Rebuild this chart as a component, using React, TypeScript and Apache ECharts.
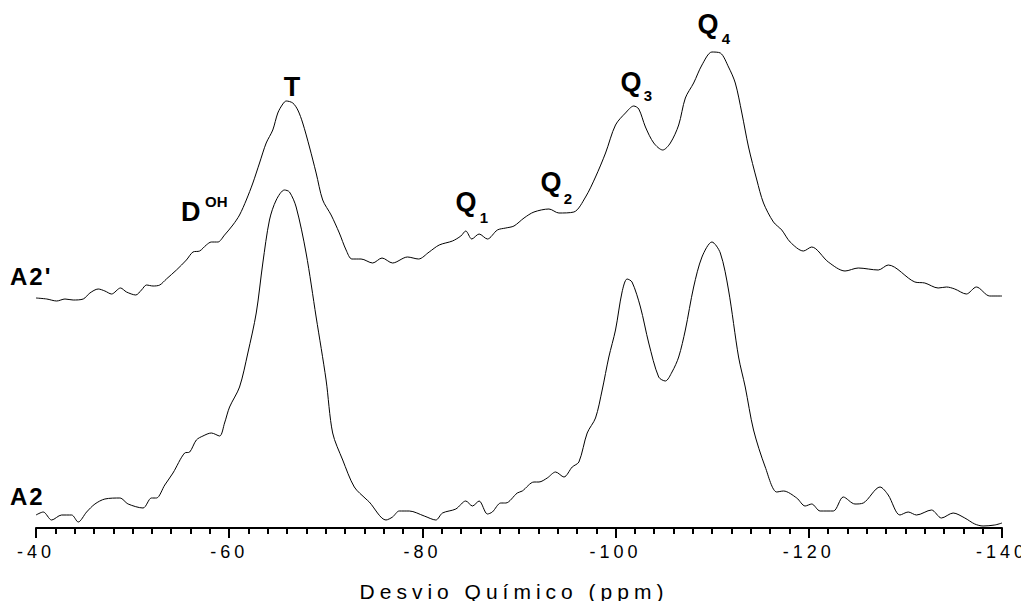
import React, { useEffect, useRef } from "react";
import * as echarts from "echarts";

// Chemical shift axis (ppm) tick labels
const xTicks = [-40, -60, -80, -100, -120, -140];

// Spectrum A2' (upper trace): [ppm, intensity]
const spectrumA2p: number[][] = [
  [-40, 230], [-41.11, 229], [-42.14, 227], [-43.0, 229], [-43.85, 228], [-44.89, 229],
  [-45.58, 235], [-46.44, 239], [-47.13, 237], [-47.82, 234], [-48.75, 240], [-49.37, 236],
  [-50.33, 233], [-50.92, 238], [-51.44, 243], [-52.12, 242], [-52.81, 243], [-53.5, 249],
  [-54.54, 258], [-55.57, 268], [-56.25, 276], [-56.94, 277], [-57.63, 283], [-58.15, 286],
  [-58.83, 286], [-59.52, 293], [-60.38, 303], [-61.07, 313], [-61.77, 328], [-62.45, 345],
  [-63.14, 365], [-63.83, 385], [-64.51, 398], [-65.03, 415], [-65.55, 424], [-65.9, 427],
  [-66.58, 425], [-67.1, 418], [-67.61, 405], [-68.31, 381], [-69.0, 355], [-69.68, 328],
  [-70.55, 313], [-71.4, 295], [-72.1, 278], [-72.7, 269], [-73.65, 269], [-74.85, 265],
  [-75.82, 270], [-76.91, 265], [-78.46, 271], [-79.6, 269], [-80.7, 276], [-81.74, 283],
  [-83.11, 287], [-83.98, 292], [-84.49, 297], [-85.11, 289], [-85.87, 294], [-86.73, 289],
  [-87.76, 298], [-88.63, 300], [-89.48, 302], [-90.52, 310], [-91.55, 316], [-93.1, 319],
  [-94.13, 315], [-95.68, 316], [-96.89, 331], [-97.92, 351], [-98.96, 375], [-99.99, 403],
  [-101.02, 415], [-101.88, 422], [-102.4, 419], [-103.09, 401], [-103.95, 385], [-104.88, 378],
  [-105.67, 385], [-106.53, 403], [-107.22, 430], [-108.08, 445], [-108.94, 463], [-109.97, 476],
  [-110.84, 475], [-111.69, 461], [-112.39, 445], [-113.07, 415], [-113.76, 381], [-114.62, 348],
  [-115.31, 325], [-116.34, 306], [-117.2, 298], [-118.07, 286], [-119.44, 277], [-120.3, 281],
  [-122.02, 266], [-123.75, 257], [-125.12, 260], [-127.19, 258], [-128.22, 263], [-130.98, 246],
  [-132.01, 245], [-133.39, 240], [-134.25, 241], [-135.11, 239], [-136.31, 234], [-137.35, 241],
  [-138.73, 232], [-140, 232],
];

// Spectrum A2 (lower trace): [ppm, intensity]
const spectrumA2: number[][] = [
  [-40, 13], [-40.75, 16], [-41.62, 8], [-42.65, 13], [-43.69, 13], [-44.37, 6],
  [-45.24, 16], [-46.1, 24], [-47.13, 29], [-48.68, 30], [-49.54, 24], [-51.08, 20],
  [-51.95, 30], [-52.47, 30], [-53.33, 43], [-54.18, 55], [-55.39, 75], [-55.91, 76],
  [-56.6, 88], [-57.28, 92], [-58.15, 95], [-59.01, 92], [-59.52, 105], [-60.04, 121],
  [-61.07, 141], [-61.93, 175], [-62.8, 215], [-63.48, 265], [-64.17, 308], [-64.87, 328],
  [-65.72, 338], [-66.24, 336], [-66.93, 321], [-67.96, 275], [-69.0, 211], [-70.03, 148],
  [-70.71, 95], [-71.75, 68], [-72.95, 41], [-74.16, 29], [-74.5, 26], [-76.23, 8],
  [-76.91, 11], [-77.6, 17], [-78.64, 17], [-80.19, 12], [-81.39, 8], [-82.08, 15],
  [-83.46, 19], [-84.49, 27], [-85.18, 22], [-85.87, 27], [-86.73, 14], [-87.24, 16],
  [-88.11, 25], [-88.63, 25], [-89.82, 35], [-90.34, 37], [-91.55, 46], [-92.07, 46],
  [-92.92, 50], [-93.79, 56], [-94.65, 51], [-95.51, 61], [-96.2, 66], [-97.06, 95],
  [-97.92, 110], [-98.61, 138], [-99.3, 171], [-99.99, 198], [-100.67, 236], [-101.19, 249],
  [-101.7, 246], [-102.57, 221], [-103.43, 185], [-104.46, 151], [-105.15, 147], [-105.84, 156],
  [-106.53, 171], [-107.22, 198], [-108.08, 241], [-108.94, 271], [-109.97, 286], [-110.84, 275],
  [-111.69, 238], [-112.73, 171], [-113.42, 141], [-114.28, 98], [-115.49, 61], [-116.68, 36],
  [-117.38, 37], [-118.75, 30], [-119.62, 22], [-120.3, 24], [-121.17, 17], [-122.54, 17],
  [-123.57, 31], [-124.78, 24], [-125.64, 25], [-127.37, 41], [-128.22, 33], [-129.43, 13],
  [-130.29, 16], [-131.15, 13], [-132.7, 18], [-133.73, 10], [-134.94, 15], [-136.15, 10],
  [-137.18, 4], [-138.04, 2], [-139.25, 3], [-140, 5],
];

const FONT = '"Liberation Sans", Arial, Helvetica, sans-serif';

function txt(
  text: string,
  x: number,
  y: number,
  size: number,
  align: string,
  bold = true
) {
  return {
    type: "text",
    x,
    y,
    silent: true,
    style: {
      text,
      font: `${bold ? "bold " : ""}${size}px ${FONT}`,
      fill: "#000",
      align,
      verticalAlign: "middle",
      textAlign: align,
      textVerticalAlign: "middle",
    },
  };
}

export default function App() {
  const ref = useRef<HTMLDivElement>(null);

  useEffect(() => {
    const el = ref.current;
    if (!el) return;
    const chart = echarts.init(el, null, { renderer: "svg" });

    const option: any = {
      animation: false,
      backgroundColor: "#fff",
      grid: { left: 36, right: 27, top: 0, bottom: 81, containLabel: false },
      xAxis: {
        type: "value",
        min: -140,
        max: -40,
        interval: 20,
        inverse: true,
        axisLine: { show: true, onZero: false, lineStyle: { color: "#000", width: 2 } },
        axisTick: { show: true, length: 10, lineStyle: { color: "#000", width: 2 } },
        minorTick: { show: true, splitNumber: 10, length: 6, lineStyle: { color: "#000", width: 2 } },
        splitLine: { show: false },
        minorSplitLine: { show: false },
        axisLabel: {
          color: "#000",
          fontSize: 18,
          fontFamily: FONT,
          margin: 15,
          showMinLabel: true,
          showMaxLabel: true,
          formatter: (v: number) => (xTicks.includes(v) ? String(v) : ""),
        },
      },
      yAxis: {
        type: "value",
        min: 0,
        max: 528,
        show: false,
        splitLine: { show: false },
      },
      series: [
        {
          name: "A2'",
          type: "line",
          data: spectrumA2p,
          showSymbol: false,
          symbol: "none",
          smooth: 0.3,
          lineStyle: { color: "#000", width: 1 },
          silent: true,
        },
        {
          name: "A2",
          type: "line",
          data: spectrumA2,
          showSymbol: false,
          symbol: "none",
          smooth: 0.3,
          lineStyle: { color: "#000", width: 1 },
          silent: true,
        },
      ],
      graphic: [
        txt("Desvio Químico (ppm)", 514, 591, 21, "center", false),
        txt("A2'", 10, 276, 24, "left"),
        txt("A2", 10, 496, 24, "left"),
        txt("T", 292, 87, 27, "center"),
        txt("D", 181, 212, 27, "left"),
        txt("OH", 205, 201, 15, "left"),
        txt("Q", 466, 202, 27, "center"),
        txt("1", 484, 217, 15, "center"),
        txt("Q", 551, 182, 27, "center"),
        txt("2", 568, 198, 15, "center"),
        txt("Q", 631, 82, 27, "center"),
        txt("3", 648, 95, 15, "center"),
        txt("Q", 708, 24, 27, "center"),
        txt("4", 726, 38, 15, "center"),
      ],
    };

    chart.setOption(option);

    const applySpacing = () => {
      el.querySelectorAll("text").forEach((t) => {
        const s = t.textContent || "";
        if (/^-\d+$/.test(s)) t.setAttribute("letter-spacing", "4");
        else if (s.startsWith("Desvio")) t.setAttribute("letter-spacing", "5");
        else if (s.startsWith("A2")) t.setAttribute("letter-spacing", "2");
      });
    };
    applySpacing();
    chart.on("finished", applySpacing);
    const timer = setTimeout(applySpacing, 30);

    return () => {
      clearTimeout(timer);
      chart.dispose();
    };
  }, []);

  return <div ref={ref} style={{ width: 1029, height: 609, margin: -8 }} />;
}
